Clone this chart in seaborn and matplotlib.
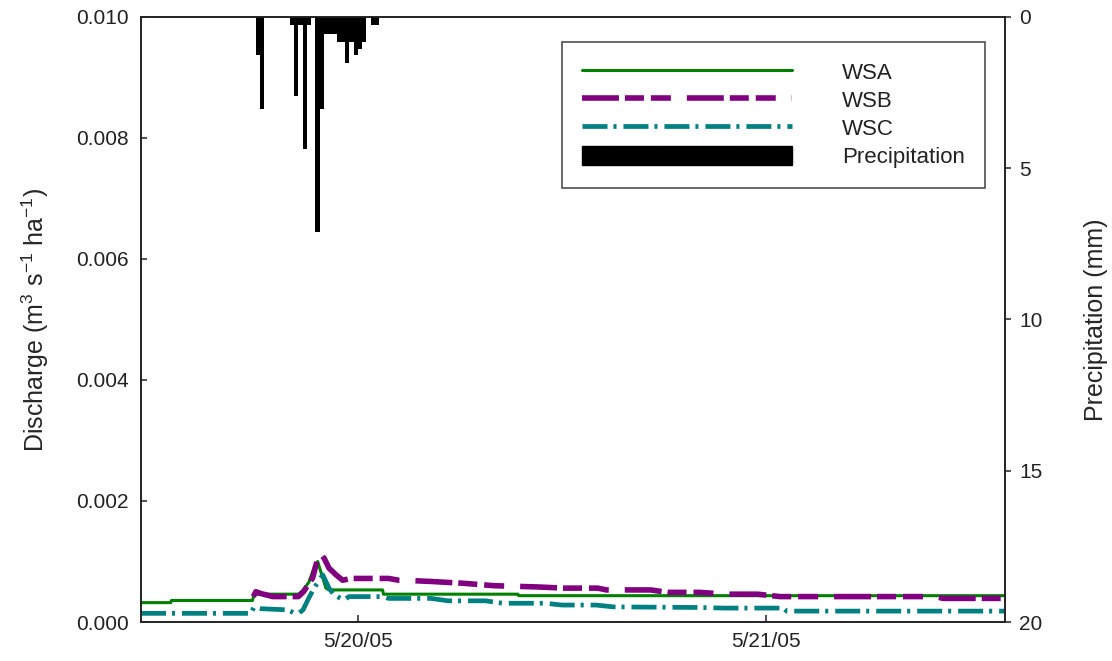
import numpy as np
import pandas as pd
import matplotlib
matplotlib.use("Agg")
import matplotlib.pyplot as plt
from matplotlib.lines import Line2D
from matplotlib.patches import Patch
import seaborn as sns

# Time axis: hours since 5/19/05 00:00
x_start, x_end = 11.25, 62.03
tick_hours = [24, 48]
tick_labels = ["5/20/05", "5/21/05"]

# Discharge (m3 s-1 ha-1)
wsa_hours = [11.25, 13.0, 13.03, 17.8, 17.9, 20.5, 20.77, 21.12, 21.42, 21.63,
             21.93, 22.12, 22.3, 25.45, 25.5, 33.4, 33.45, 62.03]
wsa_q = [0.00032, 0.00032, 0.000355, 0.000355, 0.00046, 0.00046, 0.00052, 0.00066,
         0.0009, 0.00100, 0.00073, 0.00056, 0.00053, 0.00053, 0.00046, 0.00046,
         0.000435, 0.000435]

wsb_hours = [17.85, 18.0, 18.3, 19.0, 20.5, 20.8, 21.34, 21.73, 22.02, 22.3, 22.71,
             23.1, 23.59, 25.8, 26.4, 27.5, 28.3, 30.2, 32.0, 34.5, 36.1, 38.1,
             38.6, 41.2, 42.2, 44.1, 45.6, 47.5, 48.8, 57.9, 58.4, 62.03]
wsb_q = [0.00042, 0.0005, 0.00047, 0.00042, 0.00042, 0.0005, 0.00073, 0.00116,
         0.00105, 0.00089, 0.00078, 0.00069, 0.00072, 0.00072, 0.00069, 0.00068,
         0.00067, 0.00064, 0.0006, 0.00058, 0.00056, 0.00056, 0.00053, 0.00053,
         0.00049, 0.00049, 0.00046, 0.00046, 0.00042, 0.00042, 0.00039, 0.00039]

wsc_hours = [11.25, 17.7, 17.9, 18.3, 19.9, 20.3, 20.5, 20.77, 21.12, 21.42, 21.93,
             22.3, 22.59, 23.18, 23.47, 25.5, 25.8, 28.3, 29.3, 31.5, 32.5, 35.0,
             36.0, 38.0, 39.0, 44.0, 45.5, 49.0, 49.2, 62.03]
wsc_q = [0.000143, 0.000143, 0.00025, 0.00022, 0.0002, 0.00014, 0.00014, 0.0002,
         0.0004, 0.00056, 0.00078, 0.00056, 0.00045, 0.00036, 0.00042, 0.00042,
         0.00039, 0.00039, 0.00035, 0.00035, 0.00031, 0.00031, 0.00028, 0.00028,
         0.00025, 0.00024, 0.00023, 0.00023, 0.00018, 0.00018]

# Precipitation (mm) per 15-minute interval, keyed by interval start
precip_hours = [18.0, 18.25, 20.0, 20.25, 20.5, 20.75, 21.0, 21.5, 21.75, 22.0,
                22.25, 22.5, 22.75, 23.0, 23.25, 23.5, 23.75, 24.0, 24.25, 24.75, 25.0]
precip_mm = [1.26, 3.04, 0.27, 2.6, 0.27, 4.36, 0.26, 7.1, 3.04, 0.56, 0.56, 0.56,
             0.83, 0.83, 1.52, 0.83, 1.26, 1.06, 0.83, 0.26, 0.26]

sns.set_style("white")
plt.rcParams["font.family"] = ["Liberation Sans", "DejaVu Sans"]
plt.rcParams["mathtext.default"] = "regular"
plt.rcParams["lines.scale_dashes"] = False

fig = plt.figure(figsize=(11.12, 6.61), dpi=100)
ax = fig.add_axes([0.1268, 0.059, 0.777, 0.9153])
ax2 = ax.twinx()

series = [
    ("WSA", wsa_hours, wsa_q, "#008000", 2.2, "-"),
    ("WSB", wsb_hours, wsb_q, "#800080", 4.0, (0, (26.6, 4.3, 13.7, 5.0, 14.4, 11.5))),
    ("WSC", wsc_hours, wsc_q, "#008080", 3.4, (0, (18.0, 4.3, 2.2, 5.0))),
]
handles = []
for name, hrs, q, color, lw, ls in series:
    df = pd.DataFrame({"hours": hrs, "q": q})
    sns.lineplot(data=df, x="hours", y="q", ax=ax, color=color, linewidth=lw,
                 linestyle=ls, estimator=None, sort=False)
    handles.append(Line2D([], [], color=color, linewidth=lw, linestyle=ls, label=name))

pdf = pd.DataFrame({"hours": np.array(precip_hours) + 0.125, "mm": precip_mm})
sns.histplot(data=pdf, x="hours", weights="mm", binwidth=0.25, binrange=(17.0, 26.0),
             color="black", alpha=1, linewidth=0, ax=ax2)
handles.append(Patch(facecolor="black", edgecolor="black", label="Precipitation"))

ax.set_xlim(x_start, x_end)
ax.set_ylim(0, 0.010)
ax.set_yticks(np.arange(0, 0.0101, 0.002))
ax.set_yticklabels([f"{v:.3f}" for v in np.arange(0, 0.0101, 0.002)])
ax.set_xticks(tick_hours)
ax.set_xticklabels(tick_labels)
ax.set_xlabel("")
ax.set_ylabel("Discharge (m$^{3}$ s$^{-1}$ ha$^{-1}$)", fontsize=18, labelpad=18)

ax2.set_ylim(20, 0)
ax2.set_yticks([0, 5, 10, 15, 20])
ax2.set_yticklabels(["0", "5", "10", "15", "20"])
ax2.set_ylabel("Precipitation (mm)", fontsize=18, labelpad=30)
ax2.set_xlabel("")

ax.tick_params(axis="y", direction="in", length=4, width=1.1, labelsize=15, pad=9,
               colors="#222222", labelcolor="#222222", left=True)
ax.tick_params(axis="x", direction="in", length=5, width=1.1, labelsize=15, pad=7,
               colors="#222222", labelcolor="#222222", bottom=True)
ax2.tick_params(axis="y", direction="out", length=4, width=1.1, labelsize=15, pad=6,
                colors="#222222", labelcolor="#222222", right=True)
for a in (ax, ax2):
    for s in a.spines.values():
        s.set_visible(True)
        s.set_color("#222222")
        s.set_linewidth(1.2)
    a.grid(False)

leg = ax2.legend(handles=handles, loc="upper right", bbox_to_anchor=(0.977, 0.959),
                 borderaxespad=0, frameon=True, fancybox=False, shadow=False,
                 fontsize=16, handlelength=9.45, handleheight=0.95,
                 handletextpad=2.25, labelspacing=0.26, borderpad=0.9)
leg.get_frame().set_edgecolor("#222222")
leg.get_frame().set_linewidth(1.2)
for t in leg.get_texts():
    t.set_color("#222222")

fig.savefig("out.png", dpi=100)
